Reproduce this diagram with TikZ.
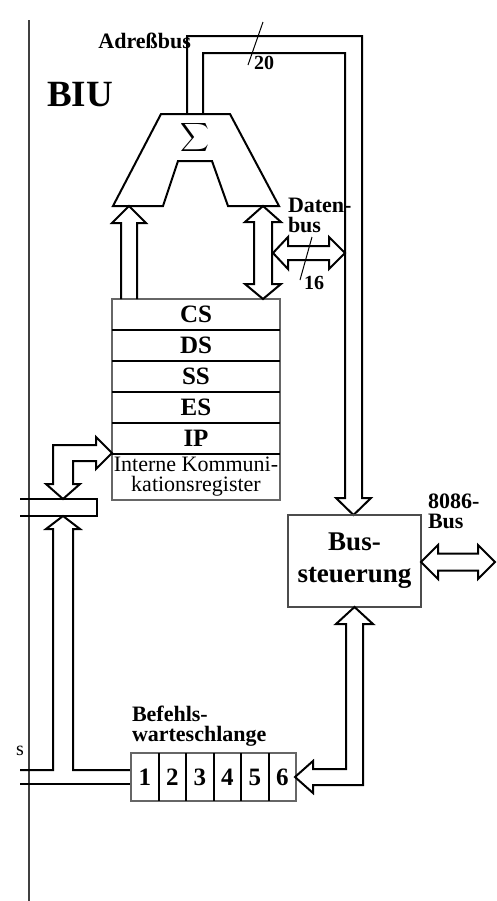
\documentclass[tikz,border=0pt]{standalone}
\usepackage{fontspec}
\setmainfont{Liberation Serif}
\usetikzlibrary{positioning}

\begin{document}
\begin{tikzpicture}[x=0.5pt,y=-0.5pt,line width=1pt,
  lbl/.style={font=\bfseries\fontsize{11}{10}\selectfont,align=left,inner sep=0pt},
  regrow/.style={minimum width=84pt,minimum height=15.5pt,inner sep=0pt,outer sep=0pt,font=\bfseries\fontsize{12.5}{14}\selectfont},
  cell/.style={minimum width=13.75pt,minimum height=24pt,inner sep=0pt,outer sep=0pt,font=\bfseries\fontsize{12.5}{14}\selectfont},
  frame/.style={draw=black!60},
  bus/.style={line width=1pt},
  tick/.style={line width=0.5pt},
  num/.style={font=\bfseries\fontsize{10}{12}\selectfont,inner sep=0pt}]
\useasboundingbox (0,0) rectangle (497,901);

% border BIU / EU
\draw[black!75] (29,20) -- (29,901);
\node[font=\bfseries\fontsize{18.5}{20}\selectfont] (biu) at (80,95) {BIU};

% segment registers
\node[regrow] (cs) at (196,314.5) {CS};
\node[regrow,below=0pt of cs] (ds) {DS};
\node[regrow,below=0pt of ds] (ss) {SS};
\node[regrow,below=0pt of ss] (es) {ES};
\node[regrow,below=0pt of es] (ip) {IP};
\node[regrow,below=0pt of ip,minimum height=23pt,align=center,font=\fontsize{11}{10}\selectfont] (ikr) {Interne Kommuni-\\kationsregister};
\draw[frame] (cs.north west) rectangle (ikr.south east);
\foreach \r in {cs,ds,ss,es,ip} \draw (\r.south west) -- (\r.south east);

% adder
\draw[bus] (161,114) -- (230,114) -- (279,206) -- (228,206) -- (212,161) -- (178,161) -- (163,206) -- (113,206) -- cycle;
\node[font=\fontsize{12}{14}\selectfont,inner sep=0pt] (sum) at (195,137) {$\displaystyle\sum$};

% address bus
\draw[bus] (187,114) -- (187,36) -- (362,36) -- (362,498) -- (371,498) -- (353.5,515) -- (336,498) -- (345,498) -- (345,53) -- (203,53) -- (203,114);
\node[lbl,anchor=east] (adr) at (192,41) {Adreßbus};
\draw[tick] (263,22) -- (248,65);
\node[num] (n20) at (264,63) {20};

% registers -> adder
\draw[bus] (121,299) -- (121,223) -- (112,223) -- (129,206) -- (146,223) -- (137,223) -- (137,299);
\draw[bus] (254,284) -- (254,222) -- (245,222) -- (263,206) -- (281,222) -- (272,222) -- (272,284) -- (281,284) -- (263,299) -- (245,284) -- cycle;

% data bus
\draw[bus] (288,246) -- (329,246) -- (329,237) -- (345,253) -- (329,269) -- (329,260) -- (288,260) -- (288,269) -- (273,253) -- (288,237) -- cycle;
\draw[tick] (312,237) -- (300,280);
\node[num] (n16) at (314,283) {16};
\node[lbl,anchor=north west] (dat) at (287,197) {Daten-\\bus};

% internal bus to the EU
\draw[bus] (20,499) -- (97,499) -- (97,516) -- (20,516);
\draw[bus] (96,445) -- (53,445) -- (53,484) -- (46,484) -- (63,499) -- (80,484) -- (73,484) -- (73,461) -- (96,461) -- (96,469) -- (112,453) -- (96,437) -- cycle;
\draw[bus] (20,770) -- (53,770) -- (53,529) -- (46,529) -- (63,516) -- (80,529) -- (73,529) -- (73,770) -- (131,770);
\draw[bus] (20,784) -- (131,784);
\node[font=\fontsize{10}{12}\selectfont,anchor=east,inner sep=0pt] (cut) at (25,751) {s};

% instruction queue
\node[cell] (q1) at (144.75,777) {1};
\foreach \i [remember=\i as \j (initially 1)] in {2,...,6}
  \node[cell,right=0pt of q\j] (q\i) {\i};
\draw[frame] (q1.north west) rectangle (q6.south east);
\foreach \i in {1,...,5} \draw (q\i.north east) -- (q\i.south east);
\node[lbl,anchor=north west] (bwq) at (131,705) {Befehls-\\warteschlange};

% bus control
\node[draw=black!70,minimum width=66.5pt,minimum height=46pt,inner sep=0pt,align=center,font=\bfseries\fontsize{13.5}{16}\selectfont] (bs) at (354.5,561) {Bus-\\steuerung};
\node[lbl,anchor=north west] (ext) at (427,493) {8086-\\Bus};
\draw[bus] (438,553.5) -- (478,553.5) -- (478,545) -- (495,562) -- (478,579) -- (478,570.5) -- (438,570.5) -- (438,579) -- (421,562) -- (438,545) -- cycle;
\draw[bus] (313,769) -- (346,769) -- (346,624) -- (336,624) -- (354.5,607) -- (373,624) -- (363,624) -- (363,785) -- (313,785) -- (313,793) -- (295,777) -- (313,761) -- cycle;
\end{tikzpicture}
\end{document}
